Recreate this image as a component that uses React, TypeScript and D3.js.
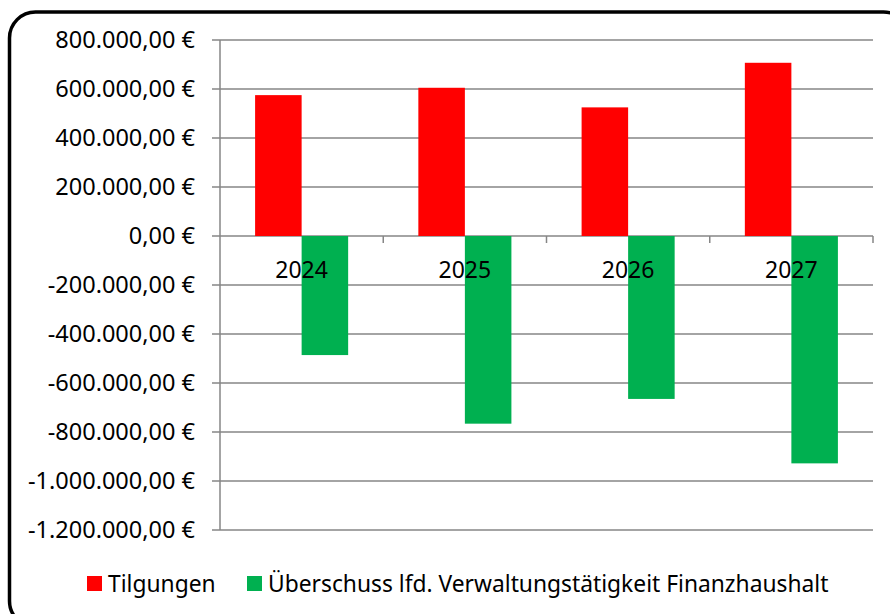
import React from "react";
import * as d3 from "d3";

const categories = ["2024", "2025", "2026", "2027"];
const seriesNames = ["Tilgungen", "Überschuss lfd. Verwaltungstätigkeit Finanzhaushalt"];
const tilgungen = [575000, 605000, 525000, 707000];
const ueberschuss = [-486000, -766000, -665000, -928000];
const yTicks = [800000, 600000, 400000, 200000, 0, -200000, -400000, -600000, -800000, -1000000, -1200000];
const colors = ["#FF0000", "#00B050"];

const fmt = (v: number) => {
  const s = d3.format(",.2f")(Math.abs(v)).replace(/,/g, "X").replace(/\./g, ",").replace(/X/g, ".");
  return (v < 0 ? "-" : "") + s + " €";
};

export default function App() {
  const W = 890, H = 614;
  const left = 220, right = 873, top = 40, bottom = 530;
  const y = d3.scaleLinear().domain([-1200000, 800000]).range([bottom, top]);
  const x = d3.scaleBand().domain(categories).range([left, right]).padding(0);
  const barW = x.bandwidth() * 0.285;
  const sub = d3.scaleBand().domain(["0", "1"]).range([-barW, barW]).padding(0);
  const font = "'Noto Sans', 'Open Sans', sans-serif";
  const series = [tilgungen, ueberschuss];
  return (
    <svg width={W} height={H} style={{ position: "absolute", left: 0, top: 0 }} fontFamily={font}>
      <rect x={0} y={0} width={W} height={H} fill="#fff" />
      {yTicks.map((t) => (
        <g key={t}>
          <line x1={left - 8} x2={right} y1={y(t)} y2={y(t)} stroke="#868686" strokeWidth={1.5} />
          <text x={195} y={y(t)} dy="0.35em" textAnchor="end" fontSize={23.5} fill="#000">
            {fmt(t)}
          </text>
        </g>
      ))}
      <line x1={left} x2={left} y1={top} y2={bottom} stroke="#868686" strokeWidth={1.5} />
      {categories.map((c) => (
        <line key={c} x1={(x(c) as number) + x.bandwidth()} x2={(x(c) as number) + x.bandwidth()} y1={y(0)} y2={y(0) + 7} stroke="#868686" strokeWidth={1.5} />
      ))}
      {series.map((vals, si) =>
        vals.map((v, i) => {
          const cx = (x(categories[i]) as number) + x.bandwidth() / 2;
          const bx = cx + (sub(String(si)) as number);
          return (
            <rect key={si + "-" + i} x={bx} width={sub.bandwidth()} y={Math.min(y(v), y(0))} height={Math.abs(y(v) - y(0))} fill={colors[si]} />
          );
        })
      )}
      {categories.map((c) => (
        <text key={c} x={(x(c) as number) + x.bandwidth() / 2} y={278} textAnchor="middle" fontSize={23} fill="#000">
          {c}
        </text>
      ))}
      <rect x={87} y={576} width={15} height={15} fill={colors[0]} />
      <text x={108} y={592} fontSize={22.8} fill="#000">{seriesNames[0]}</text>
      <rect x={247} y={576} width={15} height={15} fill={colors[1]} />
      <text x={268} y={592} fontSize={22.8} fill="#000">{seriesNames[1]}</text>
      <rect x={9.5} y={12} width={900} height={615} rx={26} ry={26} fill="none" stroke="#000" strokeWidth={3.5} />
    </svg>
  );
}
